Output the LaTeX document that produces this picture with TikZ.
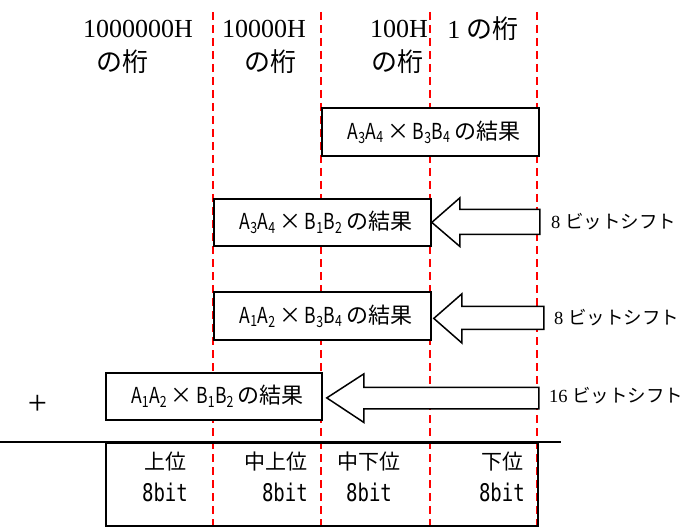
\documentclass[tikz,border=0pt]{standalone}
\usepackage{fontspec}
\usepackage{graphicx}
\setmainfont{Liberation Serif}
\newfontfamily\jp{Noto Sans CJK JP}
\newfontfamily\jmono{DejaVu Sans Mono}
\newcommand{\sbx}[1]{\textsubscript{#1}}
\newcommand{\narrow}[1]{\scalebox{0.8}[1]{#1}}
\newcommand{\prodtext}[4]{\hspace*{7pt}\narrow{A\sbx{#1}A\sbx{#2}}\,×\,\narrow{B\sbx{#3}B\sbx{#4}}\,の結果}
\newcommand{\tallbits}{\scalebox{1}[1.28]{8bit}}
\begin{document}
\begin{tikzpicture}[x=1pt,y=-1pt,
  guide/.style={draw=red, line width=1.6pt, dash pattern=on 8pt off 5pt},
  prodbox/.style={draw, line width=1.8pt, fill=white, inner sep=0pt, anchor=north west,
    minimum width=217pt, minimum height=48pt, font=\jp\fontsize{22}{24}\selectfont},
  shiftarrow/.style={draw, line width=1.5pt, fill=white, line join=miter},
  head/.style={inner sep=0pt, font=\fontsize{26}{30}\selectfont},
  shiftlbl/.style={inner sep=0pt, anchor=west, font=\fontsize{18.5}{22}\selectfont},
  poslbl/.style={inner sep=0pt, font=\jp\fontsize{21}{24}\selectfont},
  bits/.style={inner sep=0pt, font=\jmono\fontsize{19}{22}\selectfont}]
\useasboundingbox (0,0) rectangle (686,532);

% column guides
\foreach \gx/\gn in {213/g1,321/g2,430/g3,537/g4}{
  \coordinate (\gn t) at (\gx,12);
  \coordinate (\gn b) at (\gx,532);
  \draw[guide] (\gn t) -- (\gn b);
}

% column headings
\node[head] (h1) at (138,29) {1000000H};
\node[head] (h1b) at (122,62) {\jp の桁};
\node[head] (h2) at (264,29) {10000H};
\node[head] (h2b) at (270,62) {\jp の桁};
\node[head] (h3) at (399,29) {100H};
\node[head] (h3b) at (397,62) {\jp の桁};
\node[head] (h4) at (483,29) {1 {\jp の桁}};

% partial products
\node[prodbox] (b1) at (321,107) {\prodtext{3}{4}{3}{4}};
\node[prodbox, minimum height=47pt] (b2) at (213,198) {\prodtext{3}{4}{1}{2}};
\node[prodbox] (b3) at (213,291) {\prodtext{1}{2}{3}{4}};
\node[prodbox, minimum width=216pt, minimum height=47pt] (b4) at (105,372) {\prodtext{1}{2}{1}{2}};

% shift arrows
\draw[shiftarrow] (b2.east) -- ++(28,-24.5) -- ++(0,11.5) -- ++(80,0) -- ++(0,25) -- ++(-80,0) -- ++(0,12) -- cycle;
\draw[shiftarrow] ([shift={(2,2.5)}]b3.east) -- ++(28,-24.5) -- ++(0,12.5) -- ++(82,0) -- ++(0,23) -- ++(-82,0) -- ++(0,13.5) -- cycle;
\draw[shiftarrow] ([shift={(4,1.5)}]b4.east) -- ++(37,-24) -- ++(0,13.5) -- ++(175,0) -- ++(0,21.5) -- ++(-175,0) -- ++(0,13.5) -- cycle;

\node[shiftlbl] (s1) at (551,222) {8 {\jp ビットシフト}};
\node[shiftlbl] (s2) at (554,318) {8 {\jp ビットシフト}};
\node[shiftlbl] (s3) at (549,396) {16 {\jp ビットシフト}};

\node[inner sep=0pt, font=\fontsize{34}{36}\selectfont] (plus) at (37.5,405) {+};

% sum line and result
\coordinate (sl) at (0,442);
\coordinate (sr) at (561,442);
\draw[line width=1.5pt] (sl) -- (sr);
\node[draw, line width=1.8pt, inner sep=0pt, anchor=north west, minimum width=432pt, minimum height=83pt] (res) at (105,442) {};

\node[poslbl] (p1) at (165,462) {上位};
\node[bits] (q1) at (165,492) {\tallbits};
\node[poslbl, anchor=east] (p2) at (308,462) {中上位};
\node[bits, anchor=east] (q2) at (308,492) {\tallbits};
\node[poslbl] (p3) at (369,462) {中下位};
\node[bits] (q3) at (369,492) {\tallbits};
\node[poslbl, anchor=east] (p4) at (524,462) {下位};
\node[bits, anchor=east] (q4) at (525,492) {\tallbits};
\end{tikzpicture}
\end{document}
